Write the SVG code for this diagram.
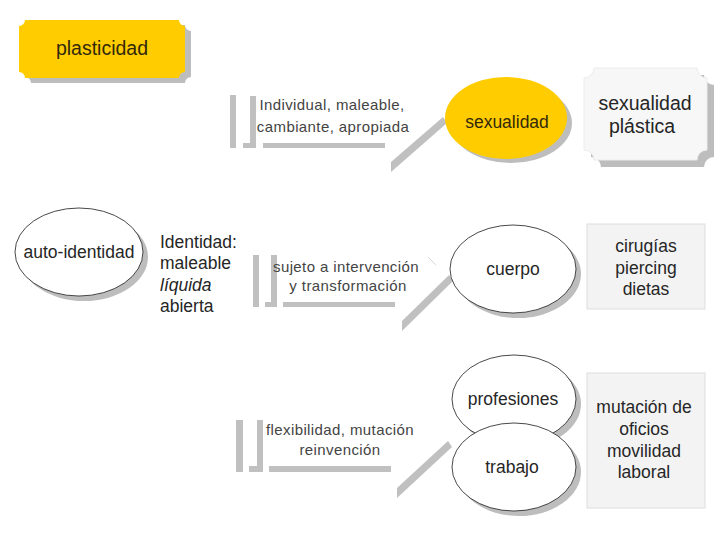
<svg xmlns="http://www.w3.org/2000/svg" width="720" height="540" viewBox="0 0 720 540">
<style>
  .t { font-family: "Liberation Sans", Arial, sans-serif; fill: #262626; text-anchor: middle; }
  .lbl { font-size: 17.5px; }
  .thin { font-family: "Liberation Sans", Arial, sans-serif; font-size: 15px; letter-spacing: 0.4px; fill: #444444; text-anchor: middle; }
  .shadow { fill: #bdbdbd; }
  .bar { fill: #c0c0c0; }
  .conn { fill: #c0c0c0; }
  .ell { fill: #ffffff; stroke: #1a1a1a; stroke-width: 0.8; }
  .box { fill: #f3f3f3; stroke: #dedede; stroke-width: 1; }
</style>
<rect width="720" height="540" fill="#ffffff"/>

<g id="connectors">
  <!-- bracket 1 -->
  <rect class="bar" x="230" y="95" width="6" height="53"/>
  <rect class="bar" x="250" y="96" width="6" height="52"/>
  <rect class="bar" x="243" y="143" width="13" height="5"/>
  <rect class="bar" x="263" y="143" width="122" height="5"/>
  <polygon class="conn" points="391,162 443,117 447,123 391,172"/>
  <!-- bracket 2 -->
  <rect class="bar" x="253" y="255" width="6" height="52"/>
  <rect class="bar" x="271" y="255" width="6" height="52"/>
  <rect class="bar" x="265" y="302" width="12" height="5"/>
  <rect class="bar" x="283" y="302" width="112" height="5"/>
  <polygon class="conn" points="402,321 449,275 453,281 402,331"/>
  <line x1="428" y1="257" x2="436" y2="265" stroke="#d8d8d8" stroke-width="1"/>
  <!-- bracket 3 -->
  <rect class="bar" x="236" y="420" width="7" height="52"/>
  <rect class="bar" x="257" y="420" width="6" height="52"/>
  <rect class="bar" x="249" y="466" width="14" height="6"/>
  <rect class="bar" x="269" y="466" width="122" height="6"/>
  <polygon class="conn" points="397,488 448,441 452,447 397,498"/>
</g>

<g id="plasticidad">
  <path class="shadow" transform="translate(6,5)" d="M25,20 H179 A6 6 0 0 0 185,26 V72 A6 6 0 0 0 179,78 H25 A6 6 0 0 0 19,72 V26 A6 6 0 0 0 25,20 Z"/>
  <path fill="#ffcc00" d="M25,20 H179 A6 6 0 0 0 185,26 V72 A6 6 0 0 0 179,78 H25 A6 6 0 0 0 19,72 V26 A6 6 0 0 0 25,20 Z"/>
  <text class="t" x="102" y="55" font-size="19.5px" style="fill:#33290a">plasticidad</text>
</g>

<g id="txt-individual">
  <text class="thin" x="332" y="110">Individual, maleable,</text>
  <text class="thin" x="333" y="132">cambiante, apropiada</text>
</g>

<g id="sexualidad">
  <ellipse class="shadow" cx="511" cy="123" rx="61" ry="40"/>
  <ellipse cx="506" cy="118" rx="61" ry="41" fill="#ffcc00"/>
  <text class="t lbl" x="507" y="128" style="fill:#33290a">sexualidad</text>
</g>

<g id="sexualidad-plastica">
  <path class="shadow" transform="translate(7,7)" d="M594,68 H697 A10 10 0 0 0 707,78 V150 A10 10 0 0 0 697,160 H594 A10 10 0 0 0 584,150 V78 A10 10 0 0 0 594,68 Z"/>
  <path fill="#f7f7f7" stroke="#ececec" d="M594,68 H697 A10 10 0 0 0 707,78 V150 A10 10 0 0 0 697,160 H594 A10 10 0 0 0 584,150 V78 A10 10 0 0 0 594,68 Z"/>
  <text class="t" x="645" y="110" font-size="19.5px">sexualidad</text>
  <text class="t" x="642" y="133" font-size="19.5px">plástica</text>
</g>

<g id="auto-identidad">
  <ellipse class="shadow" cx="84" cy="257" rx="64" ry="44"/>
  <ellipse class="ell" cx="79" cy="252" rx="64" ry="44"/>
  <text class="t lbl" x="79" y="258">auto-identidad</text>
</g>

<g id="identidad">
  <text class="t" x="160" y="248" font-size="17.5px" style="text-anchor:start">Identidad:</text>
  <text class="t" x="160" y="269" font-size="17.5px" style="text-anchor:start">maleable</text>
  <text class="t" x="160" y="291" font-size="17.5px" font-style="italic" style="text-anchor:start">líquida</text>
  <text class="t" x="160" y="312" font-size="17.5px" style="text-anchor:start">abierta</text>
</g>

<g id="txt-sujeto">
  <text class="thin" x="346" y="272">sujeto a intervención</text>
  <text class="thin" x="348" y="291">y transformación</text>
</g>

<g id="cuerpo">
  <ellipse class="shadow" cx="518" cy="274" rx="63" ry="44"/>
  <ellipse class="ell" cx="513" cy="269" rx="63" ry="44"/>
  <text class="t lbl" x="513" y="275">cuerpo</text>
</g>

<g id="cirugias">
  <rect class="box" x="587" y="224" width="118" height="85"/>
  <text class="t lbl" x="646" y="252">cirugías</text>
  <text class="t lbl" x="646" y="274">piercing</text>
  <text class="t lbl" x="646" y="295">dietas</text>
</g>

<g id="txt-flexibilidad">
  <text class="thin" x="340" y="435">flexibilidad, mutación</text>
  <text class="thin" x="340" y="455">reinvención</text>
</g>

<g id="profesiones">
  <ellipse class="shadow" cx="519" cy="404" rx="62" ry="44"/>
  <ellipse class="ell" cx="514" cy="399" rx="62" ry="44"/>
  <text class="t lbl" x="513" y="405">profesiones</text>
</g>

<g id="trabajo">
  <ellipse class="shadow" cx="519" cy="472" rx="62" ry="44"/>
  <ellipse class="ell" cx="514" cy="467" rx="62" ry="44"/>
  <text class="t lbl" x="512" y="473">trabajo</text>
</g>

<g id="mutacion">
  <rect class="box" x="587" y="373" width="118" height="135"/>
  <text class="t lbl" x="644" y="413">mutación de</text>
  <text class="t lbl" x="644" y="435">oficios</text>
  <text class="t lbl" x="644" y="457">movilidad</text>
  <text class="t lbl" x="644" y="478">laboral</text>
</g>
</svg>
